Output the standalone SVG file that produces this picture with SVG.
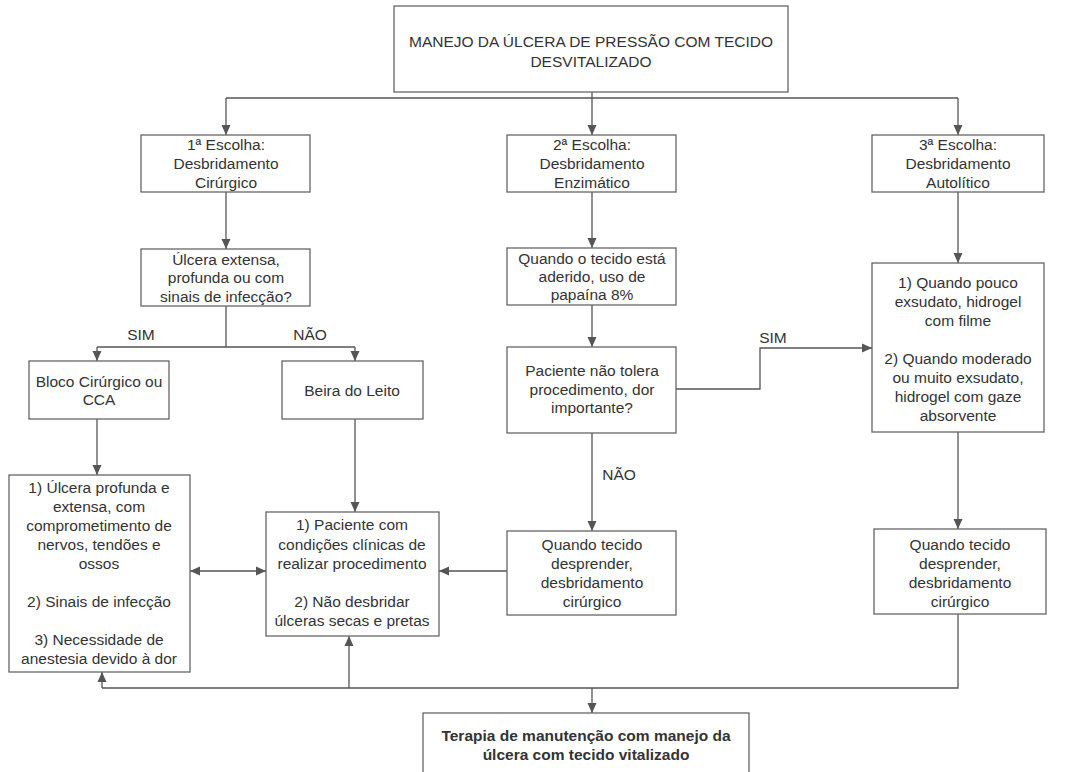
<svg xmlns="http://www.w3.org/2000/svg" width="1069" height="772" viewBox="0 0 1069 772">
<defs>
<style>
.box{fill:#fff;stroke:#666;stroke-width:1.3}
.t{font-family:"Liberation Sans",Arial,sans-serif;font-size:15.5px;fill:#333;text-anchor:middle}
.b{font-weight:bold}
.c{fill:none;stroke:#555;stroke-width:1.3}
</style>
<marker id="ah" markerUnits="userSpaceOnUse" markerWidth="10" markerHeight="10" refX="10" refY="5" orient="auto-start-reverse" viewBox="0 0 10 10">
<path d="M0,0.5 L10,5 L0,9.5 z" fill="#555"/>
</marker>
</defs>
<rect width="1069" height="772" fill="#fff"/>

<g id="connectors">
<path class="c" d="M592,92 V98"/>
<path class="c" d="M226,98 H958"/>
<path class="c" d="M226,98 V135" marker-end="url(#ah)"/>
<path class="c" d="M592,98 V135" marker-end="url(#ah)"/>
<path class="c" d="M958,98 V135" marker-end="url(#ah)"/>
<path class="c" d="M226,192 V249" marker-end="url(#ah)"/>
<path class="c" d="M226,306 V347"/>
<path class="c" d="M97,347 H355"/>
<path class="c" d="M97,347 V361" marker-end="url(#ah)"/>
<path class="c" d="M355,347 V361" marker-end="url(#ah)"/>
<path class="c" d="M97,419 V475" marker-end="url(#ah)"/>
<path class="c" d="M355,419 V512" marker-end="url(#ah)"/>
<path class="c" d="M190,571 H266" marker-start="url(#ah)" marker-end="url(#ah)"/>
<path class="c" d="M507,571 H439" marker-end="url(#ah)"/>
<path class="c" d="M592,192 V248" marker-end="url(#ah)"/>
<path class="c" d="M592,305 V347" marker-end="url(#ah)"/>
<path class="c" d="M592,433 V531" marker-end="url(#ah)"/>
<path class="c" d="M676,389 H760 V348 H872" marker-end="url(#ah)"/>
<path class="c" d="M958,192 V263" marker-end="url(#ah)"/>
<path class="c" d="M958,432 V529" marker-end="url(#ah)"/>
<path class="c" d="M958,614 V688 H102"/>
<path class="c" d="M102,688 V672" marker-end="url(#ah)"/>
<path class="c" d="M349,688 V636" marker-end="url(#ah)"/>
<path class="c" d="M592,688 V713" marker-end="url(#ah)"/>
<text class="t" x="141" y="340">SIM</text>
<text class="t" x="310" y="340">NÃO</text>
<text class="t" x="773" y="343">SIM</text>
<text class="t" x="619" y="480">NÃO</text>
</g>

<g id="n-title">
<rect class="box" x="394" y="6" width="394" height="86"/>
<text class="t" x="591" y="47">MANEJO DA ÚLCERA DE PRESSÃO COM TECIDO</text>
<text class="t" x="591" y="67">DESVITALIZADO</text>
</g>

<g id="n-escolha1">
<rect class="box" x="141" y="135" width="169" height="57"/>
<text class="t" x="226" y="150">1ª Escolha:</text>
<text class="t" x="226" y="169">Desbridamento</text>
<text class="t" x="226" y="188">Cirúrgico</text>
</g>

<g id="n-escolha2">
<rect class="box" x="507" y="135" width="169" height="57"/>
<text class="t" x="592" y="150">2ª Escolha:</text>
<text class="t" x="592" y="169">Desbridamento</text>
<text class="t" x="592" y="188">Enzimático</text>
</g>

<g id="n-escolha3">
<rect class="box" x="872" y="135" width="172" height="57"/>
<text class="t" x="958" y="150">3ª Escolha:</text>
<text class="t" x="958" y="169">Desbridamento</text>
<text class="t" x="958" y="188">Autolítico</text>
</g>

<g id="n-ulcera">
<rect class="box" x="141" y="249" width="169" height="57"/>
<text class="t" x="226" y="265">Úlcera extensa,</text>
<text class="t" x="226" y="283">profunda ou com</text>
<text class="t" x="226" y="302">sinais de infecção?</text>
</g>

<g id="n-bloco">
<rect class="box" x="29" y="361" width="140" height="58"/>
<text class="t" x="99" y="387">Bloco Cirúrgico ou</text>
<text class="t" x="99" y="405">CCA</text>
</g>

<g id="n-beira">
<rect class="box" x="282" y="361" width="141" height="58"/>
<text class="t" x="352" y="396">Beira do Leito</text>
</g>

<g id="n-criterios">
<rect class="box" x="9" y="475" width="181" height="197"/>
<text class="t" x="99" y="493">1) Úlcera profunda e</text>
<text class="t" x="99" y="512">extensa, com</text>
<text class="t" x="99" y="531">comprometimento de</text>
<text class="t" x="99" y="550">nervos, tendões e</text>
<text class="t" x="99" y="569">ossos</text>
<text class="t" x="99" y="607">2) Sinais de infecção</text>
<text class="t" x="99" y="645">3) Necessidade de</text>
<text class="t" x="99" y="664">anestesia devido à dor</text>
</g>

<g id="n-paciente-cond">
<rect class="box" x="266" y="512" width="173" height="124"/>
<text class="t" x="352" y="530">1) Paciente com</text>
<text class="t" x="352" y="550">condições clínicas de</text>
<text class="t" x="352" y="569">realizar procedimento</text>
<text class="t" x="352" y="607">2) Não desbridar</text>
<text class="t" x="352" y="626">úlceras secas e pretas</text>
</g>

<g id="n-aderido">
<rect class="box" x="507" y="248" width="169" height="57"/>
<text class="t" x="592" y="264">Quando o tecido está</text>
<text class="t" x="592" y="282">aderido, uso de</text>
<text class="t" x="592" y="300">papaína 8%</text>
</g>

<g id="n-tolera">
<rect class="box" x="507" y="347" width="169" height="86"/>
<text class="t" x="592" y="376">Paciente não tolera</text>
<text class="t" x="592" y="395">procedimento, dor</text>
<text class="t" x="592" y="413">importante?</text>
</g>

<g id="n-desprender1">
<rect class="box" x="507" y="531" width="169" height="84"/>
<text class="t" x="592" y="550">Quando tecido</text>
<text class="t" x="592" y="569">desprender,</text>
<text class="t" x="592" y="588">desbridamento</text>
<text class="t" x="592" y="607">cirúrgico</text>
</g>

<g id="n-hidrogel">
<rect class="box" x="872" y="263" width="172" height="169"/>
<text class="t" x="958" y="288">1) Quando pouco</text>
<text class="t" x="958" y="307">exsudato, hidrogel</text>
<text class="t" x="958" y="326">com filme</text>
<text class="t" x="958" y="364">2) Quando moderado</text>
<text class="t" x="958" y="383">ou muito exsudato,</text>
<text class="t" x="958" y="402">hidrogel com gaze</text>
<text class="t" x="958" y="421">absorvente</text>
</g>

<g id="n-desprender2">
<rect class="box" x="874" y="529" width="172" height="85"/>
<text class="t" x="960" y="550">Quando tecido</text>
<text class="t" x="960" y="569">desprender,</text>
<text class="t" x="960" y="588">desbridamento</text>
<text class="t" x="960" y="607">cirúrgico</text>
</g>

<g id="n-terapia">
<rect class="box" x="423" y="713" width="326" height="70"/>
<text class="t b" x="586" y="741">Terapia de manutenção com manejo da</text>
<text class="t b" x="586" y="760">úlcera com tecido vitalizado</text>
</g>
</svg>
